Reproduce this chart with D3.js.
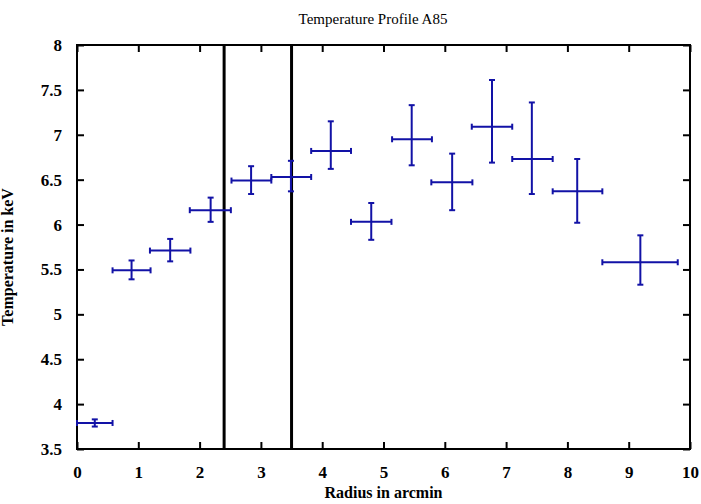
<!DOCTYPE html>
<html>
<head>
<meta charset="utf-8">
<script src="https://cdn.jsdelivr.net/npm/d3@7"></script>
<style>
  body { margin: 0; background: #fff; }
</style>
</head>
<body>
<div id="main"></div>
<script>
// radius (arcmin), bin edges and temperature (keV) with error bounds
var radius   = [0.29, 0.89, 1.52, 2.18, 2.84, 3.49, 4.14, 4.80, 5.46, 6.12, 6.77, 7.42, 8.16, 9.19];
var radiusLo = [0.00, 0.58, 1.19, 1.84, 2.52, 3.17, 3.82, 4.47, 5.14, 5.78, 6.44, 7.10, 7.76, 8.57];
var radiusHi = [0.58, 1.20, 1.85, 2.51, 3.17, 3.82, 4.47, 5.13, 5.79, 6.45, 7.10, 7.76, 8.57, 9.80];
var temp     = [3.79, 5.49, 5.71, 6.16, 6.49, 6.53, 6.82, 6.03, 6.95, 6.47, 7.09, 6.73, 6.37, 5.58];
var tempLo   = [3.75, 5.39, 5.59, 6.03, 6.34, 6.37, 6.62, 5.83, 6.66, 6.16, 6.69, 6.34, 6.02, 5.33];
var tempHi   = [3.83, 5.60, 5.84, 6.30, 6.65, 6.71, 7.15, 6.24, 7.33, 6.79, 7.61, 7.36, 6.73, 5.88];
var markers  = [2.4, 3.5];
var xTicks   = [0, 1, 2, 3, 4, 5, 6, 7, 8, 9, 10];
var yTicks   = [3.5, 4, 4.5, 5, 5.5, 6, 6.5, 7, 7.5, 8];

var ctx = {
    w: 701,
    h: 504,
    margin: { top: 45, right: 11, bottom: 55, left: 77 },
    color: "#1212a6",
    font: "'Liberation Serif', 'Times New Roman', 'DejaVu Serif', serif",
};

var createViz = function () {
    var svg = d3.select("#main").append("svg")
        .attr("width", ctx.w)
        .attr("height", ctx.h);

    var iw = ctx.w - ctx.margin.left - ctx.margin.right;
    var ih = ctx.h - ctx.margin.top - ctx.margin.bottom;

    var x = d3.scaleLinear().domain([0, 10]).range([0, iw]);
    var y = d3.scaleLinear().domain([3.5, 8]).range([ih, 0]);

    var g = svg.append("g")
        .attr("transform", "translate(" + ctx.margin.left + "," + ctx.margin.top + ")");

    // axes with inward ticks
    var bottom = g.append("g").attr("transform", "translate(0," + ih + ")")
        .call(d3.axisBottom(x).tickValues(xTicks).tickSizeInner(-7).tickSizeOuter(0).tickPadding(17));
    var top = g.append("g")
        .call(d3.axisTop(x).tickValues(xTicks).tickSizeInner(-7).tickSizeOuter(0).tickFormat(""));
    var left = g.append("g")
        .call(d3.axisLeft(y).tickValues(yTicks).tickSizeInner(-7).tickSizeOuter(0).tickPadding(15)
            .tickFormat(d3.format("")));
    var right = g.append("g").attr("transform", "translate(" + iw + ",0)")
        .call(d3.axisRight(y).tickValues(yTicks).tickSizeInner(-7).tickSizeOuter(0).tickFormat(""));

    [bottom, top, left, right].forEach(function (a) {
        a.attr("font-family", null).attr("font-size", null);
        a.select(".domain").remove();
        a.selectAll(".tick line").attr("stroke", "#000").attr("stroke-width", 2);
        a.selectAll("text")
            .style("font-family", ctx.font)
            .style("font-size", "17px").style("font-weight", "bold");
    });

    // frame
    g.append("rect")
        .attr("x", 0).attr("y", 0).attr("width", iw).attr("height", ih)
        .attr("fill", "none").attr("stroke", "#000").attr("stroke-width", 2);

    // vertical marker lines
    g.selectAll(".marker").data(markers).enter().append("line")
        .attr("class", "marker")
        .attr("x1", function (d) { return x(d); })
        .attr("x2", function (d) { return x(d); })
        .attr("y1", 0).attr("y2", ih)
        .attr("stroke", "#000").attr("stroke-width", 3);

    // error bars
    var data = radius.map(function (r, i) {
        return { r: r, r0: radiusLo[i], r1: radiusHi[i], t: temp[i], t0: tempLo[i], t1: tempHi[i] };
    });
    var cap = 3;
    var pts = g.selectAll(".pt").data(data).enter().append("g").attr("class", "pt")
        .attr("stroke", ctx.color).attr("stroke-width", 2).attr("fill", "none");

    pts.append("line")
        .attr("x1", function (d) { return x(d.r0); })
        .attr("x2", function (d) { return x(d.r1); })
        .attr("y1", function (d) { return y(d.t); })
        .attr("y2", function (d) { return y(d.t); });
    pts.append("line")
        .attr("x1", function (d) { return x(d.r); })
        .attr("x2", function (d) { return x(d.r); })
        .attr("y1", function (d) { return y(d.t0); })
        .attr("y2", function (d) { return y(d.t1); });
    // caps
    ["r0", "r1"].forEach(function (k) {
        pts.append("line")
            .attr("x1", function (d) { return x(d[k]); })
            .attr("x2", function (d) { return x(d[k]); })
            .attr("y1", function (d) { return y(d.t) - cap; })
            .attr("y2", function (d) { return y(d.t) + cap; });
    });
    ["t0", "t1"].forEach(function (k) {
        pts.append("line")
            .attr("x1", function (d) { return x(d.r) - cap; })
            .attr("x2", function (d) { return x(d.r) + cap; })
            .attr("y1", function (d) { return y(d[k]); })
            .attr("y2", function (d) { return y(d[k]); });
    });

    // labels
    svg.append("text")
        .attr("x", 373).attr("y", 24)
        .attr("text-anchor", "middle")
        .style("font-family", ctx.font)
        .style("font-size", "15px")
        .text("Temperature Profile A85");
    svg.append("text")
        .attr("x", ctx.margin.left + iw / 2).attr("y", 498)
        .attr("text-anchor", "middle")
        .style("font-family", ctx.font)
        .style("font-size", "16px").style("font-weight", "bold")
        .text("Radius in arcmin");
    svg.append("text")
        .attr("transform", "translate(13," + (ctx.margin.top + ih / 2 + 10) + ")rotate(-90)")
        .attr("text-anchor", "middle")
        .style("font-family", ctx.font)
        .style("font-size", "16px").style("font-weight", "bold")
        .text("Temperature in keV");
};

createViz();
</script>
</body>
</html>
